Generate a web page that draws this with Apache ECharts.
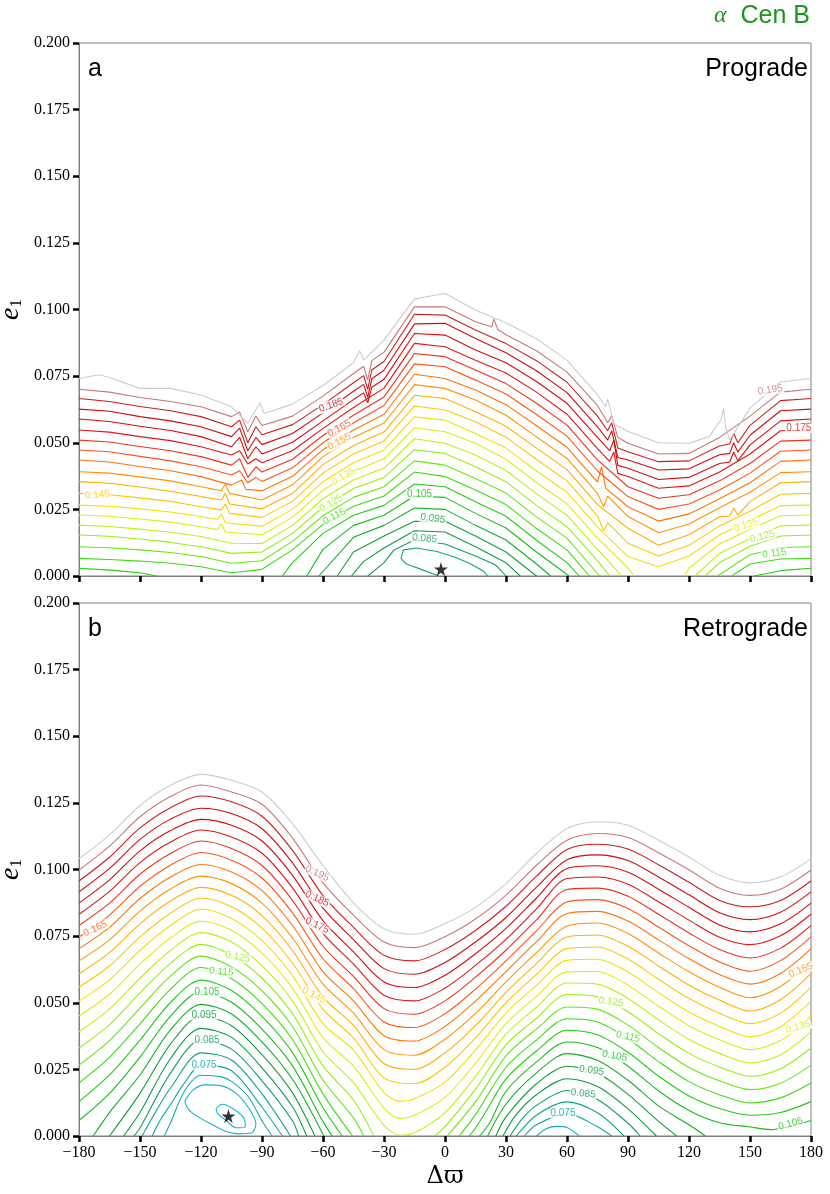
<!DOCTYPE html>
<html>
<head>
<meta charset="utf-8">
<script src="https://cdn.jsdelivr.net/npm/echarts/dist/echarts.min.js"></script>
<style>
html, body { margin: 0; padding: 0; background: #fff; }
#chart { width: 830px; height: 1194px; }
</style>
</head>
<body>
<div id="chart"></div>
<script>
// contour levels (stability limit of a1) and their colours
const levels = ['0.060','0.065','0.070','0.075','0.080','0.085','0.090','0.095','0.100','0.105',
  '0.110','0.115','0.120','0.125','0.130','0.135','0.140','0.145','0.150','0.155',
  '0.160','0.165','0.170','0.175','0.180','0.185','0.190','0.195','0.200'];
const levelColors = ['#1cb4d8','#19b0c8','#15aab4','#12a8a0','#10a484','#109e64','#0f9a44','#12a030','#10b024','#12c016',
  '#1ed010','#3cdc10','#66e810','#94f010','#c0f010','#e0ec10','#f4e000','#fcc800','#ffb000','#ff9400',
  '#ff7400','#ff5414','#f0301a','#e01414','#d80a0a','#d00c0c','#cc1c1c','#c87878','#cccccc'];

const xMin = -180, xMax = 180, xStep = 30;
const yMin = 0, yMax = 0.2, yStep = 0.025;

// panel a (prograde): level -> segments, each segment = flat list x, e, x, e ...
const progradeLines = {
  '0.200': [[-180,.0741,-170,.0755,-165,.0745,-150,.0704,-135,.0704,-120,.0679,-105,.0635,-97,.0573,-91,.0650,-89,.0610,-75,.0645,-60,.0715,-45,.0800,-42,.0845,-40,.0810,-30,.0885,-15,.1040,0,.1060,15,.0998,30,.0950,45,.0890,60,.0810,75,.0680,79,.0635,80,.0665,83,.0570,90,.0542,105,.0500,120,.0498,130,.0523,136,.0590,137,.0630,138,.0560,140,.0510,150,.0630,165,.0728,180,.0741]],
  '0.195': [[-180,.0701,-165,.0690,-150,.0670,-135,.0655,-120,.0635,-105,.0598,-101,.0615,-97,.0540,-93,.0600,-90,.0565,-75,.0600,-60,.0675,-45,.0760,-40,.0787,-38,.0735,-36,.0808,-30,.0840,-15,.1010,0,.1010,15,.0954,23,.0935,24,.0965,26,.0925,30,.0905,45,.0845,60,.0765,75,.0640,80,.0575,82,.0600,85,.0520,90,.0498,105,.0458,120,.0460,135,.0520,150,.0600,165,.0690,180,.0701]],
  '0.190': [[-180,.0666,-165,.0655,-150,.0636,-135,.0620,-120,.0598,-105,.0560,-101,.0585,-97,.0500,-93,.0560,-90,.0530,-75,.0568,-60,.0643,-45,.0725,-40,.0752,-38,.0700,-36,.0773,-30,.0805,-15,.0982,0,.0979,15,.0923,30,.0872,45,.0808,60,.0727,75,.0600,80,.0545,82,.0575,85,.0480,90,.0466,105,.0429,120,.0432,135,.0488,140,.0495,142,.0535,144,.0500,150,.0565,165,.0658,180,.0666]],
  '0.185': [[-180,.0626,-165,.0618,-150,.0598,-135,.0582,-120,.0560,-105,.0523,-101,.0555,-97,.0470,-93,.0520,-90,.0493,-75,.0535,-60,.0612,-45,.0693,-40,.0719,-38,.0670,-36,.0740,-30,.0772,-15,.0946,0,.0948,15,.0891,30,.0838,45,.0770,60,.0688,75,.0560,80,.0510,82,.0545,85,.0445,90,.0435,105,.0398,120,.0402,135,.0455,140,.0460,142,.0500,144,.0465,150,.0528,165,.0620,180,.0626]],
  '0.180': [[-180,.0589,-165,.0580,-150,.0562,-135,.0546,-120,.0523,-105,.0485,-101,.0520,-97,.0440,-93,.0485,-90,.0458,-75,.0502,-60,.0582,-45,.0662,-40,.0687,-38,.0650,-36,.0708,-30,.0738,-15,.0910,0,.0904,15,.0848,30,.0800,45,.0730,60,.0648,75,.0520,81,.0470,83,.0510,85,.0415,90,.0404,105,.0362,120,.0370,135,.0422,140,.0428,142,.0465,144,.0432,150,.0492,165,.0582,180,.0589]],
  '0.175': [[-180,.0548,-165,.0540,-150,.0523,-135,.0508,-120,.0485,-105,.0454,-101,.0470,-97,.0420,-93,.0440,-90,.0425,-75,.0470,-60,.0554,-45,.0632,-30,.0705,-15,.0873,0,.0860,15,.0810,30,.0762,45,.0690,60,.0607,75,.0478,81,.0430,83,.0465,85,.0385,90,.0373,105,.0329,120,.0338,135,.0390,150,.0458,165,.0545,180,.0548]],
  '0.170': [[-180,.0510,-165,.0503,-150,.0486,-135,.0470,-120,.0448,-105,.0416,-101,.0440,-97,.0370,-93,.0410,-90,.0390,-75,.0438,-60,.0527,-45,.0603,-30,.0672,-15,.0835,0,.0823,15,.0773,30,.0722,45,.0648,60,.0566,75,.0436,90,.0335,105,.0292,120,.0305,135,.0357,150,.0422,165,.0506,180,.0510]],
  '0.165': [[-180,.0473,-165,.0466,-150,.0449,-135,.0432,-120,.0410,-105,.0379,-101,.0395,-97,.0350,-93,.0370,-90,.0355,-75,.0406,-60,.0500,-45,.0575,-30,.0640,-15,.0796,0,.0785,15,.0735,30,.0683,45,.0606,60,.0525,75,.0394,90,.0298,105,.0250,120,.0270,135,.0323,150,.0386,165,.0468,180,.0473]],
  '0.160': [[-180,.0435,-165,.0428,-150,.0411,-135,.0395,-120,.0373,-105,.0341,-100,.0360,-98,.0325,-90,.0320,-75,.0374,-60,.0474,-45,.0548,-30,.0607,-15,.0757,0,.0741,15,.0698,30,.0643,45,.0564,60,.0483,75,.0352,77,.0410,79,.0330,90,.0260,105,.0206,120,.0233,135,.0290,150,.0350,165,.0430,180,.0435]],
  '0.155': [[-180,.0391,-165,.0386,-150,.0372,-135,.0357,-120,.0335,-110,.0320,-108,.0345,-106,.0310,-90,.0285,-75,.0342,-60,.0448,-45,.0520,-30,.0574,-15,.0718,0,.0704,15,.0660,30,.0603,45,.0522,60,.0441,75,.0310,78,.0260,80,.0300,90,.0223,105,.0162,120,.0195,135,.0256,150,.0314,165,.0388,180,.0391]],
  '0.150': [[-180,.0354,-165,.0348,-150,.0334,-135,.0318,-120,.0298,-110,.0285,-108,.0310,-106,.0270,-90,.0252,-75,.0310,-60,.0418,-45,.0490,-30,.0540,-15,.0678,0,.0666,15,.0616,30,.0562,45,.0480,60,.0399,75,.0268,90,.0179,105,.0115,120,.0155,135,.0222,140,.0225,142,.0255,144,.0228,150,.0279,165,.0350,180,.0354]],
  '0.145': [[-180,.0310,-165,.0305,-150,.0293,-135,.0280,-120,.0260,-110,.0248,-108,.0270,-106,.0235,-90,.0220,-75,.0280,-60,.0386,-45,.0458,-30,.0507,-15,.0638,0,.0623,15,.0579,30,.0521,45,.0437,60,.0357,75,.0226,78,.0170,80,.0200,90,.0123,105,.0075,120,.0115,135,.0188,150,.0243,165,.0307,180,.0310]],
  '0.140': [[-180,.0266,-165,.0262,-150,.0252,-135,.0240,-120,.0223,-112,.0212,-110,.0232,-108,.0200,-90,.0187,-75,.0250,-60,.0354,-45,.0425,-30,.0473,-15,.0597,0,.0585,15,.0535,30,.0480,45,.0394,60,.0314,75,.0184,90,.0073,105,.0035,120,.0075,135,.0154,150,.0208,165,.0264,180,.0266]],
  '0.135': [[-180,.0229,-165,.0224,-150,.0214,-135,.0202,-120,.0185,-112,.0174,-110,.0195,-108,.0165,-90,.0155,-75,.0220,-60,.0322,-45,.0393,-30,.0440,-15,.0556,0,.0541,15,.0498,30,.0438,45,.0351,60,.0271,75,.0142,90,.0030,93,0],
            [118,0,120,.0030,135,.0120,150,.0175,165,.0226,180,.0229]],
  '0.130': [[-180,.0191,-165,.0186,-150,.0176,-135,.0164,-120,.0148,-105,.0123,-90,.0122,-75,.0190,-60,.0290,-45,.0360,-30,.0405,-15,.0515,0,.0498,15,.0454,30,.0396,45,.0308,60,.0228,75,.0100,87,0],
            [123,0,135,.0085,150,.0140,165,.0188,180,.0191]],
  '0.125': [[-180,.0154,-165,.0149,-150,.0139,-135,.0126,-120,.0110,-105,.0085,-90,.0090,-75,.0160,-60,.0258,-45,.0328,-30,.0370,-15,.0474,0,.0460,15,.0410,30,.0354,45,.0265,60,.0185,75,.0058,81,0],
            [128,0,135,.0050,150,.0112,165,.0150,180,.0154]],
  '0.120': [[-180,.0110,-165,.0106,-150,.0098,-135,.0088,-120,.0073,-105,.0048,-90,.0057,-75,.0130,-60,.0226,-45,.0295,-30,.0335,-15,.0432,0,.0416,15,.0366,30,.0311,45,.0222,60,.0142,76,0],
            [134,0,150,.0080,165,.0107,180,.0110]],
  '0.115': [[-180,.0066,-165,.0062,-150,.0056,-135,.0048,-120,.0035,-105,.0012,-90,.0025,-75,.0098,-60,.0194,-45,.0262,-30,.0300,-15,.0390,0,.0373,15,.0323,30,.0268,45,.0178,60,.0098,71,0],
            [141,0,150,.0045,165,.0064,180,.0066]],
  '0.110': [[-180,.0029,-165,.0022,-150,.0012,-142,0],
            [-80,0,-75,.0050,-60,.0160,-45,.0228,-30,.0265,-15,.0345,0,.0335,15,.0279,30,.0224,45,.0134,60,.0050,66,0],
            [152,0,165,.0020,180,.0029]],
  '0.105': [[-68,0,-60,.0100,-45,.0190,-30,.0228,-15,.0300,0,.0295,15,.0235,30,.0180,45,.0090,61,0]],
  '0.100': [[-62,0,-45,.0145,-30,.0190,-15,.0255,0,.0250,15,.0190,30,.0135,45,.0045,52,0]],
  '0.095': [[-53,0,-45,.0090,-30,.0150,-15,.0205,0,.0205,15,.0150,30,.0090,45,0]],
  '0.090': [[-46,0,-40,.0055,-30,.0105,-15,.0170,0,.0165,15,.0110,30,.0050,37,0]],
  '0.085': [[-38,0,-30,.0050,-25,.0098,-15,.0135,0,.0120,15,.0075,25,.0041,30,0]],
  '0.080': [[-3,0,-11,.0023,-19,.0045,-21.6,.0065,-20.5,.0098,-14,.0105,-4,.0092,5,.0070,12,.0048,19,.0018,21,0]]
};

// panel b (retrograde)
const retrogradeLines = {
  '0.200': [[-180,.1040,-165,.1130,-150,.1240,-135,.1316,-120,.1357,-105,.1335,-90,.1291,-75,.1172,-60,.1015,-45,.0875,-30,.0778,-15,.0757,0,.0797,15,.0858,30,.0947,45,.1060,60,.1154,75,.1179,90,.1166,105,.1110,120,.1047,135,.0978,150,.0950,165,.0972,180,.1040]],
  '0.195': [[-180,.0998,-165,.1088,-150,.1198,-135,.1274,-120,.1317,-105,.1291,-90,.1245,-75,.1118,-60,.0950,-45,.0829,-30,.0728,-15,.0707,0,.0748,15,.0814,30,.0904,45,.1016,60,.1110,75,.1135,90,.1120,105,.1063,120,.0999,135,.0930,150,.0903,165,.0926,180,.0998]],
  '0.190': [[-180,.0957,-165,.1046,-150,.1156,-135,.1232,-120,.1276,-105,.1254,-90,.1200,-75,.1072,-60,.0902,-45,.0783,-30,.0678,-15,.0657,0,.0700,15,.0771,30,.0862,45,.0975,60,.1075,75,.1095,90,.1077,105,.1018,120,.0952,135,.0884,150,.0860,165,.0884,180,.0957]],
  '0.185': [[-180,.0916,-165,.1004,-150,.1113,-135,.1189,-120,.1230,-105,.1210,-90,.1153,-75,.1025,-60,.0855,-45,.0737,-30,.0628,-15,.0607,0,.0651,15,.0728,30,.0820,45,.0934,60,.1037,75,.1055,90,.1034,105,.0972,120,.0905,135,.0838,150,.0812,165,.0840,180,.0916]],
  '0.180': [[-180,.0874,-165,.0961,-150,.1070,-135,.1146,-120,.1188,-105,.1166,-90,.1107,-75,.0978,-60,.0808,-45,.0691,-30,.0578,-15,.0557,0,.0603,15,.0684,30,.0779,45,.0893,60,.1004,75,.1014,90,.0990,105,.0926,120,.0858,135,.0792,150,.0766,165,.0796,180,.0874]],
  '0.175': [[-180,.0832,-165,.0918,-150,.1026,-135,.1103,-120,.1148,-105,.1122,-90,.1061,-75,.0931,-60,.0760,-45,.0645,-30,.0528,-15,.0507,0,.0555,15,.0640,30,.0738,45,.0852,60,.0966,75,.0972,90,.0945,105,.0879,120,.0810,135,.0746,150,.0718,165,.0751,180,.0832]],
  '0.170': [[-180,.0790,-165,.0874,-150,.0982,-135,.1060,-120,.1107,-105,.1079,-90,.1015,-75,.0884,-60,.0712,-45,.0599,-30,.0478,-15,.0457,0,.0507,15,.0596,30,.0697,45,.0811,60,.0925,75,.0930,90,.0900,105,.0832,120,.0762,135,.0700,150,.0668,165,.0705,180,.0790]],
  '0.165': [[-180,.0747,-165,.0829,-150,.0937,-135,.1016,-120,.1064,-105,.1035,-90,.0968,-75,.0837,-60,.0665,-45,.0553,-30,.0428,-15,.0407,0,.0459,15,.0551,30,.0657,45,.0770,60,.0878,75,.0887,90,.0854,105,.0784,120,.0714,135,.0653,150,.0618,165,.0658,180,.0747]],
  '0.160': [[-180,.0703,-165,.0783,-150,.0891,-135,.0972,-120,.1019,-105,.0991,-90,.0921,-75,.0790,-60,.0617,-45,.0507,-30,.0376,-15,.0356,0,.0411,15,.0506,30,.0617,45,.0729,60,.0835,75,.0843,90,.0807,105,.0736,120,.0665,135,.0606,150,.0570,165,.0610,180,.0703]],
  '0.155': [[-180,.0657,-165,.0736,-150,.0844,-135,.0927,-120,.0975,-105,.0947,-90,.0874,-75,.0743,-60,.0570,-45,.0461,-30,.0324,-15,.0303,0,.0363,15,.0460,30,.0578,45,.0688,60,.0788,75,.0799,90,.0760,105,.0687,120,.0616,135,.0558,150,.0519,165,.0561,180,.0657]],
  '0.150': [[-180,.0609,-165,.0688,-150,.0796,-135,.0882,-120,.0933,-105,.0903,-90,.0827,-75,.0696,-60,.0522,-45,.0415,-30,.0272,-15,.0250,0,.0312,15,.0414,30,.0539,45,.0647,60,.0747,75,.0754,90,.0712,105,.0638,120,.0566,135,.0510,150,.0469,165,.0511,180,.0609]],
  '0.145': [[-180,.0559,-165,.0638,-150,.0747,-135,.0836,-120,.0893,-105,.0860,-90,.0780,-75,.0649,-60,.0475,-45,.0368,-30,.0218,-15,.0196,0,.0258,15,.0368,30,.0500,45,.0606,60,.0703,75,.0709,90,.0664,105,.0588,120,.0516,135,.0461,150,.0422,165,.0461,180,.0559]],
  '0.140': [[-180,.0506,-165,.0586,-150,.0697,-135,.0790,-120,.0851,-105,.0816,-90,.0733,-75,.0602,-60,.0422,-45,.0322,-30,.0163,-22,.0130,-15,.0140,0,.0202,15,.0322,30,.0461,45,.0565,60,.0659,75,.0663,90,.0615,105,.0538,120,.0465,135,.0411,150,.0372,165,.0410,180,.0506]],
  '0.135': [[-180,.0450,-165,.0532,-150,.0645,-135,.0743,-120,.0806,-105,.0772,-90,.0686,-75,.0555,-60,.0369,-45,.0262,-30,.0105,-22,.0066,-15,.0078,0,.0145,15,.0273,30,.0422,45,.0524,60,.0616,75,.0617,90,.0566,105,.0487,120,.0414,135,.0361,150,.0324,165,.0358,180,.0450]],
  '0.130': [[-180,.0391,-165,.0476,-150,.0592,-135,.0696,-120,.0763,-105,.0728,-90,.0639,-75,.0507,-60,.0316,-45,.0200,-30,.0040,-22,.0003,-15,.0012,0,.0088,15,.0224,30,.0382,45,.0483,60,.0574,75,.0570,90,.0516,105,.0436,120,.0362,135,.0310,150,.0274,165,.0305,180,.0391]],
  '0.125': [[-180,.0330,-165,.0418,-150,.0537,-135,.0648,-120,.0719,-105,.0678,-90,.0592,-75,.0459,-60,.0263,-45,.0135,-35,0],
            [-5,0,0,.0035,15,.0176,30,.0342,45,.0442,60,.0531,75,.0523,90,.0466,105,.0384,120,.0310,135,.0259,150,.0224,165,.0252,180,.0330]],
  '0.120': [[-180,.0266,-165,.0358,-150,.0480,-135,.0600,-120,.0675,-105,.0634,-90,.0545,-75,.0411,-60,.0210,-45,.0068,-40,0],
            [1,0,15,.0128,30,.0301,45,.0401,60,.0484,75,.0476,90,.0416,105,.0332,120,.0257,135,.0207,150,.0174,165,.0198,180,.0266]],
  '0.115': [[-180,.0199,-165,.0295,-150,.0421,-135,.0551,-120,.0632,-105,.0590,-90,.0497,-75,.0362,-60,.0158,-45.5,0],
            [7,0,15,.0080,30,.0258,45,.0360,60,.0440,75,.0428,90,.0365,105,.0279,120,.0204,135,.0155,150,.0124,165,.0143,180,.0199]],
  '0.110': [[-180,.0129,-165,.0229,-150,.0360,-135,.0501,-120,.0585,-105,.0546,-90,.0449,-75,.0313,-60,.0106,-50.5,0],
            [12,0,15,.0030,20,.0090,30,.0214,45,.0319,60,.0397,75,.0380,90,.0314,105,.0225,120,.0150,135,.0103,150,.0078,165,.0088,180,.0129]],
  '0.105': [[-180,.0058,-165,.0160,-150,.0296,-135,.0450,-120,.0541,-105,.0502,-90,.0401,-75,.0263,-60,.0054,-55.5,0],
            [17,0,22,.0050,30,.0168,45,.0278,60,.0353,75,.0332,90,.0262,105,.0170,120,.0096,135,.0050,150,.0034,160,.0024,170,.0036,180,.0058]],
  '0.100': [[-173,0,-165,.0088,-150,.0229,-135,.0398,-120,.0494,-105,.0458,-90,.0353,-75,.0213,-65,.0080,-59.6,0],
            [21,0,30,.0120,45,.0237,60,.0309,75,.0284,90,.0209,105,.0113,120,.0042,128,0]],
  '0.095': [[-165,0,-150,.0160,-135,.0345,-120,.0450,-105,.0414,-90,.0305,-75,.0162,-64,0],
            [25,0,30,.0072,45,.0196,60,.0262,75,.0235,90,.0156,105,.0055,114,0]],
  '0.090': [[-158,0,-150,.0088,-135,.0291,-120,.0404,-105,.0370,-90,.0256,-75,.0110,-68,0],
            [28.5,0,35,.0080,45,.0155,60,.0215,75,.0186,90,.0102,104,0]],
  '0.085': [[-153,0,-150,.0030,-135,.0236,-120,.0360,-105,.0326,-90,.0207,-75,.0057,-72,0],
            [32,0,38,.0065,45,.0115,60,.0171,75,.0137,90,.0048,96,0]],
  '0.080': [[-149,0,-142,.0095,-135,.0180,-120,.0312,-105,.0285,-90,.0158,-76,0],
            [35,0,45,.0078,60,.0128,75,.0087,88,0]],
  '0.075': [[-144,0,-140,.0060,-135,.0118,-128,.0200,-120,.0265,-105,.0245,-90,.0108,-80,0],
            [39,0,45,.0042,60,.0084,75,.0035,82,0]],
  '0.070': [[-138,0,-135,.0050,-128,.0170,-120,.0228,-110,.0222,-105,.0205,-97,.0150,-90,.0057,-85,0],
            [45,0,50,.0028,55,.0036,60,.0032,66,0]],
  '0.065': [[-128,.0130,-124,.0172,-118,.0192,-110,.0188,-103,.0162,-97,.0110,-93,.0045,-95,.0012,-101,.0008,-108,.0018,-115,.0045,-121,.0070,-126,.0098,-128,.0130]],
  '0.060': [[-112.6,.0103,-109.4,.0119,-104.4,.0103,-98.7,.0065,-98.2,.0034,-102.8,.0031,-107.7,.0059,-111.8,.0084,-112.6,.0103]]
};

// inline contour labels: [level, x, e, rotation]
const progradeLabels = [
  ['0.145',-171,.0304,5], ['0.185',-56,.0641,20], ['0.165',-52,.0554,28], ['0.155',-52,.0504,28],
  ['0.135',-50,.0373,30], ['0.125',-56,.0273,30], ['0.115',-54.4,.0223,28], ['0.105',-12.5,.0308,0],
  ['0.095',-6,.0216,-8], ['0.085',-10,.0141,-5], ['0.195',160,.0698,8], ['0.175',174,.0554,0],
  ['0.135',148,.0190,18], ['0.125',156,.0148,15], ['0.115',162,.0085,8]
];
const retrogradeLabels = [
  ['0.195',-62.9,.0985,-25], ['0.185',-62.9,.0890,-25], ['0.175',-62.9,.0790,-25], ['0.165',-172,.0778,25],
  ['0.145',-64.5,.0528,-28], ['0.125',-102,.0672,-12], ['0.115',-110,.0616,-5], ['0.105',-117,.0540,0],
  ['0.095',-118.5,.0453,0], ['0.085',-117,.0359,0], ['0.075',-118.5,.0265,0],
  ['0.125',81.7,.0503,-8], ['0.115',90,.0372,-12], ['0.105',83.4,.0300,-10], ['0.095',72,.0246,-8],
  ['0.085',68,.0159,-6], ['0.075',58,.0086,0], ['0.155',175,.0622,22], ['0.135',173.6,.0409,15],
  ['0.105',170,.0046,15]
];

// best-fit positions (stars)
const progradeStar = [-2, 0.0026];
const retrogradeStar = [-106.5, 0.0075];

const chart = echarts.init(document.getElementById('chart'), null, { renderer: 'canvas' });

const pairs = flat => {
  const out = [];
  for (let i = 0; i < flat.length; i += 2) out.push([flat[i], flat[i + 1]]);
  return out;
};
const colorOf = lv => levelColors[levels.indexOf(lv)];

function contourSeries(lines, gi, smooth) {
  const list = [];
  levels.forEach(lv => {
    (lines[lv] || []).forEach(seg => {
      list.push({
        type: 'line', xAxisIndex: gi, yAxisIndex: gi,
        data: pairs(seg), showSymbol: false, symbol: 'none', smooth: smooth,
        lineStyle: { color: colorOf(lv), width: 1.1 },
        silent: true, animation: false, z: 2
      });
    });
  });
  return list;
}

function labelSeries(labels, gi) {
  return {
    type: 'scatter', xAxisIndex: gi, yAxisIndex: gi, symbolSize: 0, silent: true, animation: false, z: 5,
    data: labels.map(([lv, x, e, rot]) => ({
      value: [x, e],
      label: {
        show: true, position: 'inside', formatter: lv, rotate: rot,
        color: colorOf(lv), fontSize: 10, fontFamily: 'Liberation Sans',
        backgroundColor: '#fff', padding: [0, 1]
      }
    }))
  };
}

const starPath = 'path://M50,0 L61,35 L98,35 L68,57 L79,91 L50,70 L21,91 L32,57 L2,35 L39,35 Z';
function starSeries(pt, gi) {
  return {
    type: 'scatter', xAxisIndex: gi, yAxisIndex: gi, data: [pt], symbol: starPath, symbolSize: 14,
    itemStyle: { color: '#000' }, silent: true, animation: false, z: 6
  };
}

const serif = 'Liberation Serif';
function xAxis(gi, showLabels) {
  return {
    type: 'value', gridIndex: gi, min: xMin, max: xMax, interval: xStep,
    axisLine: { show: true, onZero: false, lineStyle: { color: '#808080', width: 1 } },
    axisTick: { show: true, length: 6, lineStyle: { color: '#000', width: 2.5 } },
    axisLabel: {
      show: showLabels, margin: 9, color: '#000', fontFamily: serif, fontSize: 16,
      formatter: v => (v < 0 ? '\u2212' + Math.abs(v) : String(v))
    },
    splitLine: { show: false },
    name: showLabels ? '\u0394\u03d6' : '',
    nameLocation: 'middle', nameGap: 29, nameMoveOverlap: false,
    nameTextStyle: { color: '#000', fontFamily: 'DejaVu Serif', fontSize: 24 }
  };
}
function yAxis(gi) {
  return {
    type: 'value', gridIndex: gi, min: yMin, max: yMax, interval: yStep,
    axisLine: { show: true, onZero: false, lineStyle: { color: '#808080', width: 1 } },
    axisTick: { show: true, length: 6, lineStyle: { color: '#000', width: 2.5 } },
    axisLabel: { margin: 9, color: '#000', fontFamily: serif, fontSize: 16, formatter: v => v.toFixed(3) },
    splitLine: { show: false },
    name: '{e|e}{s|1}', nameLocation: 'middle', nameGap: 54, nameRotate: 90, nameMoveOverlap: false,
    nameTextStyle: {
      rich: {
        e: { fontFamily: serif, fontStyle: 'italic', fontSize: 28, color: '#000' },
        s: { fontFamily: serif, fontSize: 17, color: '#000', padding: [12, 0, 0, 0] }
      }
    }
  };
}

const option = {
  animation: false,
  backgroundColor: '#fff',
  grid: [
    { left: 79, top: 43, width: 732, height: 533, show: true, borderColor: '#808080', borderWidth: 1, containLabel: false, outerBoundsMode: 'none' },
    { left: 79, top: 603, width: 732, height: 533, show: true, borderColor: '#808080', borderWidth: 1, containLabel: false, outerBoundsMode: 'none' }
  ],
  xAxis: [xAxis(0, false), xAxis(1, true)],
  yAxis: [yAxis(0), yAxis(1)],
  graphic: [
    { type: 'text', x: 810, y: 16, z: 10, style: {
        text: '{a|\u03b1}{b|  Cen B}', align: 'right', verticalAlign: 'middle',
        rich: {
          a: { fontFamily: serif, fontStyle: 'italic', fontSize: 24, fill: '#1a961a' },
          b: { fontFamily: 'Liberation Sans', fontSize: 25, fill: '#1a961a' }
        } } },
    { type: 'text', x: 88, y: 69, z: 10, style: { text: 'a', fontFamily: 'Liberation Sans', fontSize: 25, fill: '#000', verticalAlign: 'middle' } },
    { type: 'text', x: 808, y: 69, z: 10, style: { text: 'Prograde', fontFamily: 'Liberation Sans', fontSize: 25, fill: '#000', align: 'right', verticalAlign: 'middle' } },
    { type: 'text', x: 88, y: 629, z: 10, style: { text: 'b', fontFamily: 'Liberation Sans', fontSize: 25, fill: '#000', verticalAlign: 'middle' } },
    { type: 'text', x: 808, y: 629, z: 10, style: { text: 'Retrograde', fontFamily: 'Liberation Sans', fontSize: 25, fill: '#000', align: 'right', verticalAlign: 'middle' } }
  ],
  series: [
    ...contourSeries(progradeLines, 0, false),
    ...contourSeries(retrogradeLines, 1, 0.3),
    labelSeries(progradeLabels, 0),
    labelSeries(retrogradeLabels, 1),
    starSeries(progradeStar, 0),
    starSeries(retrogradeStar, 1)
  ]
};
chart.setOption(option);
</script>
</body>
</html>
